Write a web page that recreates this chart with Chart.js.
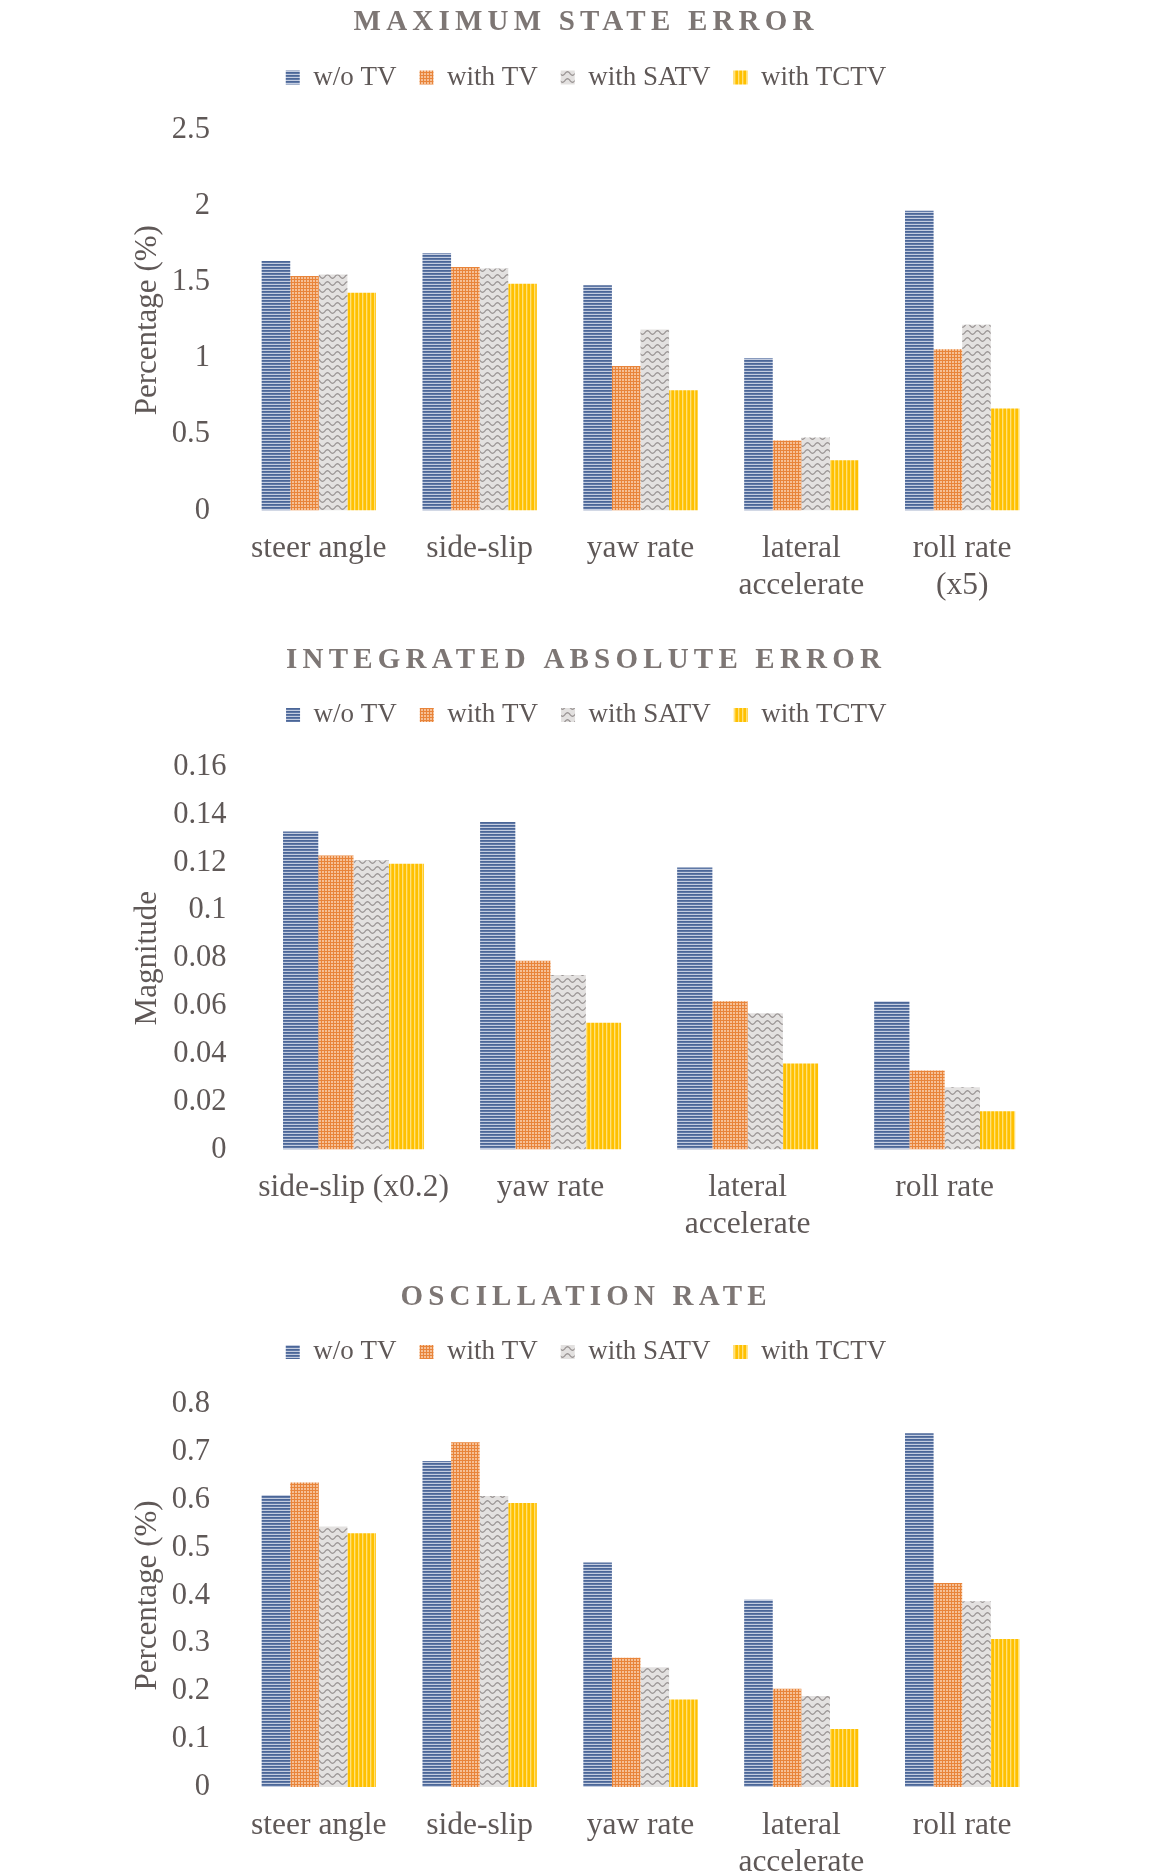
<!DOCTYPE html>
<html>
<head>
<meta charset="utf-8">
<script src="https://cdn.jsdelivr.net/npm/chart.js@4.4.1/dist/chart.umd.min.js"></script>
<style>
  html, body { margin: 0; padding: 0; background: #fff; }
  body { width: 1167px; height: 1873px; position: relative; overflow: hidden; }
  canvas { position: absolute; left: 0; }
</style>
</head>
<body>
<canvas id="c1" width="1167" height="627" style="top:0px"></canvas>
<canvas id="c2" width="1167" height="620" style="top:627px"></canvas>
<canvas id="c3" width="1167" height="626" style="top:1247px"></canvas>
<script>
const SERIES = ['w/o TV', 'with TV', 'with SATV', 'with TCTV']

// Maximum state error (%)
const msCats  = ['steer angle', 'side-slip', 'yaw rate', ['lateral', 'accelerate'], ['roll rate', '(x5)']]
const msWoTV  = [1.64, 1.69, 1.48, 1.00, 1.97]
const msTV    = [1.54, 1.60, 0.95, 0.46, 1.06]
const msSATV  = [1.55, 1.59, 1.19, 0.48, 1.22]
const msTCTV  = [1.43, 1.49, 0.79, 0.33, 0.67]
const msTicks = [0, 0.5, 1, 1.5, 2, 2.5]

// Integrated absolute error
const iaCats  = ['side-slip (x0.2)', 'yaw rate', ['lateral', 'accelerate'], 'roll rate']
const iaWoTV  = [0.133, 0.137, 0.118, 0.062]
const iaTV    = [0.123, 0.079, 0.062, 0.033]
const iaSATV  = [0.121, 0.073, 0.057, 0.026]
const iaTCTV  = [0.1195, 0.053, 0.036, 0.016]
const iaTicks = [0, 0.02, 0.04, 0.06, 0.08, 0.1, 0.12, 0.14, 0.16]

// Oscillation rate (%)
const orCats  = ['steer angle', 'side-slip', 'yaw rate', ['lateral', 'accelerate'], 'roll rate']
const orWoTV  = [0.610, 0.681, 0.469, 0.391, 0.739]
const orTV    = [0.636, 0.720, 0.270, 0.205, 0.426]
const orSATV  = [0.544, 0.608, 0.250, 0.190, 0.388]
const orTCTV  = [0.530, 0.593, 0.183, 0.121, 0.309]
const orTicks = [0, 0.1, 0.2, 0.3, 0.4, 0.5, 0.6, 0.7, 0.8]

const SERIF = '"Liberation Serif", "Times New Roman", serif'
const TXT = '#5f5857'
const TITLE_COL = '#7d7674'

// -- textures (Excel-like fills) --
function tile(w, h, draw) {
    const c = document.createElement('canvas')
    c.width = w
    c.height = h
    draw(c.getContext('2d'))
    return c.getContext('2d').createPattern(c, 'repeat')
}

const blueFill = tile(2, 3, g => {
    g.fillStyle = '#4b6697'; g.fillRect(0, 0, 2, 1)
    g.fillStyle = '#6079a7'; g.fillRect(0, 1, 2, 1)
    g.fillStyle = '#c4cde0'; g.fillRect(0, 2, 2, 1)
})
const orangeFill = tile(3, 3, g => {
    g.fillStyle = '#f6c096'; g.fillRect(0, 0, 3, 3)
    g.fillStyle = '#e8843a'; g.fillRect(0, 0, 3, 1); g.fillRect(0, 0, 1, 3)
})
const grayFill = tile(10, 7, g => {
    g.fillStyle = '#e3e1e0'; g.fillRect(0, 0, 10, 7)
    g.strokeStyle = '#989392'
    g.lineWidth = 1.2
    g.beginPath()
    for (let x = -1; x <= 11; x += 0.5) {
        const y = 3.5 + 1.8 * Math.sin(x / 10 * Math.PI * 2)
        if (x === -1) g.moveTo(x, y); else g.lineTo(x, y)
    }
    g.stroke()
})
const yellowFill = tile(4, 1, g => {
    g.fillStyle = '#ffc000'; g.fillRect(0, 0, 4, 1)
    g.fillStyle = '#ffe17a'; g.fillRect(2, 0, 1, 1)
    g.fillStyle = '#ffcb2a'; g.fillRect(3, 0, 1, 1)
})
const FILLS = [blueFill, orangeFill, grayFill, yellowFill]

// titre en capitales espacées
const spacedTitle = {
    id: 'spacedTitle',
    afterDraw(chart, args, opts) {
        const ctx = chart.ctx
        ctx.save()
        ctx.font = 'bold 29px ' + SERIF
        ctx.fillStyle = TITLE_COL
        ctx.letterSpacing = '5.2px'
        ctx.textAlign = 'center'
        ctx.textBaseline = 'middle'
        ctx.fillText(opts.text, chart.width / 2 + 2.6, opts.y)
        ctx.restore()
    }
}

function makeChart(id, o) {
    return new Chart(document.getElementById(id), {
        type: 'bar',
        data: {
            labels: o.labels,
            datasets: o.series.map((d, i) => ({
                label: SERIES[i],
                data: d,
                backgroundColor: FILLS[i],
                borderWidth: 0,
                categoryPercentage: o.catPct,
                barPercentage: 1
            }))
        },
        options: {
            responsive: false,
            animation: false,
            devicePixelRatio: 1,
            layout: { padding: o.pad },
            plugins: {
                legend: {
                    position: 'top',
                    labels: {
                        boxWidth: 14,
                        boxHeight: 14,
                        padding: 23,
                        color: TXT,
                        font: { family: SERIF, size: 27 }
                    }
                },
                // sert d'espace entre la légende et le graphe
                subtitle: {
                    display: true,
                    text: '',
                    weight: 500,
                    font: { size: 1, lineHeight: 1 },
                    padding: { top: o.gap, bottom: 0 }
                },
                tooltip: { enabled: false },
                spacedTitle: { text: o.title, y: o.titleY }
            },
            scales: {
                x: {
                    grid: { display: false, drawTicks: false },
                    border: { display: false },
                    ticks: {
                        color: TXT,
                        font: { family: SERIF, size: 31.5, lineHeight: 1.17 },
                        padding: 20,
                        maxRotation: 0,
                        autoSkip: false
                    },
                    afterFit: s => { s.height = o.xH }
                },
                y: {
                    min: o.ticks[0],
                    max: o.ticks[o.ticks.length - 1],
                    afterBuildTicks: s => { s.ticks = o.ticks.map(v => ({ value: v })) },
                    grid: { display: false, drawTicks: false },
                    border: { display: false },
                    ticks: {
                        color: TXT,
                        font: { family: SERIF, size: 30.5 },
                        padding: 28.5,
                        callback: v => String(Math.round(v * 1000) / 1000)
                    },
                    title: {
                        display: true,
                        text: o.yTitle,
                        color: TXT,
                        font: { family: SERIF, size: 31 },
                        padding: 0
                    },
                    afterFit: s => { s.width = o.yW }
                }
            }
        },
        plugins: [spacedTitle]
    })
}

makeChart('c1', {
    title: 'MAXIMUM STATE ERROR', titleY: 22.5,
    labels: msCats,
    series: [msWoTV, msTV, msSATV, msTCTV],
    ticks: msTicks,
    yTitle: 'Percentage (%)',
    catPct: 0.711, yW: 109, gap: 28, xH: 116.5,
    pad: { top: 41, left: 129.4, right: 124.4, bottom: 0 }
})

makeChart('c2', {
    title: 'INTEGRATED ABSOLUTE ERROR', titleY: 33.5,
    labels: iaCats,
    series: [iaWoTV, iaTV, iaSATV, iaTCTV],
    ticks: iaTicks,
    yTitle: 'Magnitude',
    catPct: 0.7155, yW: 125.6, gap: 27.5, xH: 97.5,
    pad: { top: 51.5, left: 129.4, right: 123.8, bottom: 0 }
})

makeChart('c3', {
    title: 'OSCILLATION RATE', titleY: 50.5,
    labels: orCats,
    series: [orWoTV, orTV, orSATV, orTCTV],
    ticks: orTicks,
    yTitle: 'Percentage (%)',
    catPct: 0.711, yW: 109, gap: 27.5, xH: 86,
    pad: { top: 68.5, left: 129.4, right: 124.4, bottom: 0 }
})
</script>
</body>
</html>
